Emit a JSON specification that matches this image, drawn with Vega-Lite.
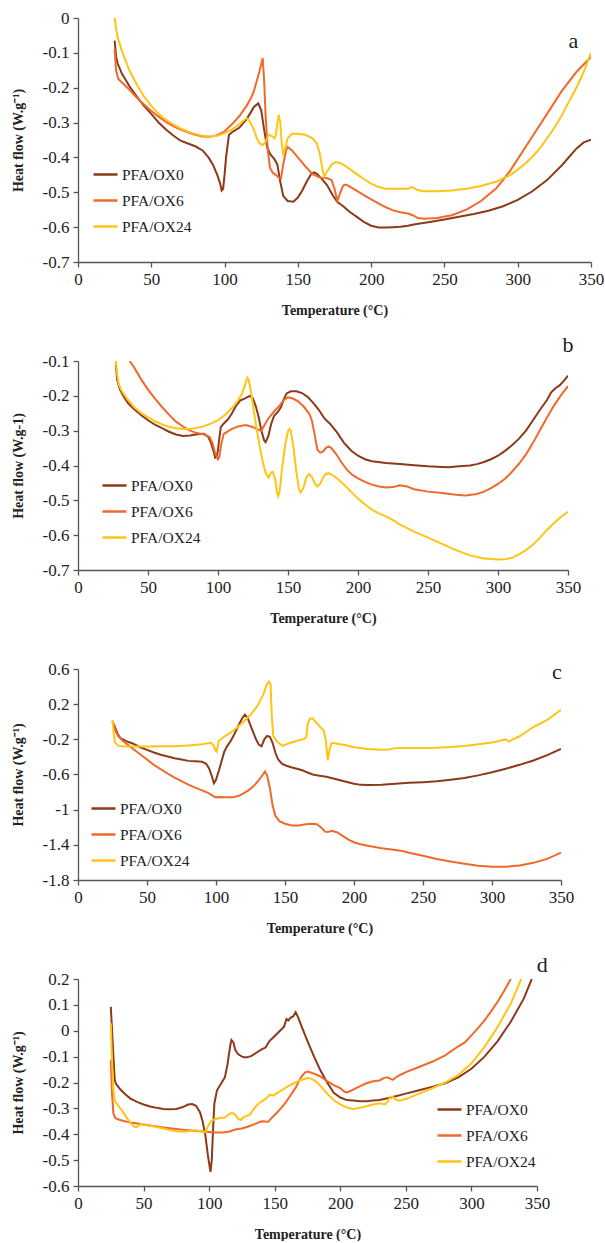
{
"$schema":"https://vega.github.io/schema/vega-lite/v6.json",
"padding":{"left":11,"top":9,"right":5,"bottom":0},
"bounds":"flush",
"spacing":99,
"resolve":{"scale":{"color":"independent"},"legend":{"color":"independent"}},
"config":{
 "locale":{"number":{"decimal":".","thousands":",","grouping":[3],"currency":["$",""],"minus":"-"}},
 "view":{"stroke":null},
 "axis":{"grid":false,"domainColor":"#555","tickColor":"#555","domainWidth":1.3,"tickWidth":1.3,"tickSize":5,"labelPadding":4,"labelFont":"Liberation Serif","labelFontSize":17,"labelColor":"#222","titleFont":"Liberation Serif","titleFontSize":14,"titleFontWeight":"bold","titleColor":"#222","labelFlush":false,"labelOverlap":false,"tickCount":20},
 "axisX":{"titlePadding":16},
 "axisY":{"titlePadding":17},
 "legend":{"orient":"none","title":null,"symbolType":"stroke","symbolSize":576,"symbolStrokeWidth":2.5,"labelFont":"Liberation Serif","labelFontSize":15.5,"labelColor":"#222","rowPadding":4,"labelOffset":3,"padding":0,"direction":"vertical"}
},
"datasets":{
"a":[
{"s":"PFA/OX0","T":25,"v":-0.065},{"s":"PFA/OX0","T":26,"v":-0.11},{"s":"PFA/OX0","T":27,"v":-0.13},{"s":"PFA/OX0","T":30,"v":-0.16},{"s":"PFA/OX0","T":35,"v":-0.195},{"s":"PFA/OX0","T":40,"v":-0.225},{"s":"PFA/OX0","T":45,"v":-0.252},{"s":"PFA/OX0","T":50,"v":-0.275},{"s":"PFA/OX0","T":55,"v":-0.3},{"s":"PFA/OX0","T":60,"v":-0.32},{"s":"PFA/OX0","T":65,"v":-0.337},{"s":"PFA/OX0","T":70,"v":-0.352},{"s":"PFA/OX0","T":75,"v":-0.36},{"s":"PFA/OX0","T":80,"v":-0.368},{"s":"PFA/OX0","T":85,"v":-0.38},{"s":"PFA/OX0","T":89,"v":-0.4},{"s":"PFA/OX0","T":92,"v":-0.42},{"s":"PFA/OX0","T":95,"v":-0.45},{"s":"PFA/OX0","T":97,"v":-0.475},{"s":"PFA/OX0","T":98,"v":-0.495},{"s":"PFA/OX0","T":99,"v":-0.49},{"s":"PFA/OX0","T":100,"v":-0.45},{"s":"PFA/OX0","T":101,"v":-0.4},{"s":"PFA/OX0","T":103,"v":-0.335},{"s":"PFA/OX0","T":106,"v":-0.325},{"s":"PFA/OX0","T":110,"v":-0.315},{"s":"PFA/OX0","T":115,"v":-0.29},{"s":"PFA/OX0","T":118,"v":-0.27},{"s":"PFA/OX0","T":120,"v":-0.255},{"s":"PFA/OX0","T":123,"v":-0.245},{"s":"PFA/OX0","T":125,"v":-0.265},{"s":"PFA/OX0","T":127,"v":-0.32},{"s":"PFA/OX0","T":129,"v":-0.37},{"s":"PFA/OX0","T":131,"v":-0.39},{"s":"PFA/OX0","T":134,"v":-0.405},{"s":"PFA/OX0","T":136,"v":-0.42},{"s":"PFA/OX0","T":138,"v":-0.47},{"s":"PFA/OX0","T":140,"v":-0.51},{"s":"PFA/OX0","T":143,"v":-0.525},{"s":"PFA/OX0","T":147,"v":-0.527},{"s":"PFA/OX0","T":150,"v":-0.515},{"s":"PFA/OX0","T":153,"v":-0.495},{"s":"PFA/OX0","T":156,"v":-0.47},{"s":"PFA/OX0","T":159,"v":-0.448},{"s":"PFA/OX0","T":161,"v":-0.443},{"s":"PFA/OX0","T":163,"v":-0.447},{"s":"PFA/OX0","T":166,"v":-0.46},{"s":"PFA/OX0","T":170,"v":-0.48},{"s":"PFA/OX0","T":174,"v":-0.51},{"s":"PFA/OX0","T":177,"v":-0.528},{"s":"PFA/OX0","T":181,"v":-0.54},{"s":"PFA/OX0","T":185,"v":-0.555},{"s":"PFA/OX0","T":190,"v":-0.57},{"s":"PFA/OX0","T":195,"v":-0.585},{"s":"PFA/OX0","T":200,"v":-0.596},{"s":"PFA/OX0","T":205,"v":-0.601},{"s":"PFA/OX0","T":210,"v":-0.601},{"s":"PFA/OX0","T":215,"v":-0.6},{"s":"PFA/OX0","T":220,"v":-0.599},{"s":"PFA/OX0","T":225,"v":-0.596},{"s":"PFA/OX0","T":230,"v":-0.592},{"s":"PFA/OX0","T":240,"v":-0.585},{"s":"PFA/OX0","T":250,"v":-0.578},{"s":"PFA/OX0","T":260,"v":-0.57},{"s":"PFA/OX0","T":270,"v":-0.562},{"s":"PFA/OX0","T":280,"v":-0.553},{"s":"PFA/OX0","T":290,"v":-0.54},{"s":"PFA/OX0","T":300,"v":-0.522},{"s":"PFA/OX0","T":310,"v":-0.497},{"s":"PFA/OX0","T":320,"v":-0.465},{"s":"PFA/OX0","T":330,"v":-0.423},{"s":"PFA/OX0","T":340,"v":-0.375},{"s":"PFA/OX0","T":345,"v":-0.357},{"s":"PFA/OX0","T":350,"v":-0.349},
{"s":"PFA/OX6","T":25,"v":-0.09},{"s":"PFA/OX6","T":26,"v":-0.15},{"s":"PFA/OX6","T":27.5,"v":-0.175},{"s":"PFA/OX6","T":30,"v":-0.185},{"s":"PFA/OX6","T":35,"v":-0.205},{"s":"PFA/OX6","T":40,"v":-0.228},{"s":"PFA/OX6","T":45,"v":-0.248},{"s":"PFA/OX6","T":50,"v":-0.267},{"s":"PFA/OX6","T":55,"v":-0.283},{"s":"PFA/OX6","T":60,"v":-0.298},{"s":"PFA/OX6","T":65,"v":-0.31},{"s":"PFA/OX6","T":70,"v":-0.32},{"s":"PFA/OX6","T":75,"v":-0.328},{"s":"PFA/OX6","T":80,"v":-0.335},{"s":"PFA/OX6","T":85,"v":-0.34},{"s":"PFA/OX6","T":90,"v":-0.341},{"s":"PFA/OX6","T":95,"v":-0.336},{"s":"PFA/OX6","T":100,"v":-0.325},{"s":"PFA/OX6","T":105,"v":-0.305},{"s":"PFA/OX6","T":110,"v":-0.282},{"s":"PFA/OX6","T":115,"v":-0.252},{"s":"PFA/OX6","T":118,"v":-0.23},{"s":"PFA/OX6","T":120,"v":-0.21},{"s":"PFA/OX6","T":122,"v":-0.18},{"s":"PFA/OX6","T":124,"v":-0.15},{"s":"PFA/OX6","T":126,"v":-0.115},{"s":"PFA/OX6","T":127,"v":-0.18},{"s":"PFA/OX6","T":128,"v":-0.28},{"s":"PFA/OX6","T":129.5,"v":-0.38},{"s":"PFA/OX6","T":131,"v":-0.43},{"s":"PFA/OX6","T":133,"v":-0.445},{"s":"PFA/OX6","T":135,"v":-0.45},{"s":"PFA/OX6","T":137,"v":-0.457},{"s":"PFA/OX6","T":138.5,"v":-0.46},{"s":"PFA/OX6","T":140,"v":-0.42},{"s":"PFA/OX6","T":142,"v":-0.38},{"s":"PFA/OX6","T":143,"v":-0.37},{"s":"PFA/OX6","T":146,"v":-0.38},{"s":"PFA/OX6","T":150,"v":-0.4},{"s":"PFA/OX6","T":155,"v":-0.425},{"s":"PFA/OX6","T":160,"v":-0.448},{"s":"PFA/OX6","T":165,"v":-0.458},{"s":"PFA/OX6","T":170,"v":-0.46},{"s":"PFA/OX6","T":173,"v":-0.465},{"s":"PFA/OX6","T":175,"v":-0.49},{"s":"PFA/OX6","T":177,"v":-0.525},{"s":"PFA/OX6","T":179,"v":-0.5},{"s":"PFA/OX6","T":181,"v":-0.48},{"s":"PFA/OX6","T":183,"v":-0.478},{"s":"PFA/OX6","T":186,"v":-0.485},{"s":"PFA/OX6","T":190,"v":-0.495},{"s":"PFA/OX6","T":195,"v":-0.508},{"s":"PFA/OX6","T":200,"v":-0.52},{"s":"PFA/OX6","T":205,"v":-0.532},{"s":"PFA/OX6","T":210,"v":-0.543},{"s":"PFA/OX6","T":215,"v":-0.552},{"s":"PFA/OX6","T":220,"v":-0.557},{"s":"PFA/OX6","T":225,"v":-0.561},{"s":"PFA/OX6","T":228,"v":-0.565},{"s":"PFA/OX6","T":232,"v":-0.574},{"s":"PFA/OX6","T":236,"v":-0.576},{"s":"PFA/OX6","T":245,"v":-0.574},{"s":"PFA/OX6","T":255,"v":-0.566},{"s":"PFA/OX6","T":265,"v":-0.55},{"s":"PFA/OX6","T":275,"v":-0.525},{"s":"PFA/OX6","T":285,"v":-0.49},{"s":"PFA/OX6","T":290,"v":-0.465},{"s":"PFA/OX6","T":295,"v":-0.437},{"s":"PFA/OX6","T":300,"v":-0.405},{"s":"PFA/OX6","T":310,"v":-0.34},{"s":"PFA/OX6","T":320,"v":-0.275},{"s":"PFA/OX6","T":330,"v":-0.21},{"s":"PFA/OX6","T":340,"v":-0.155},{"s":"PFA/OX6","T":350,"v":-0.112},
{"s":"PFA/OX24","T":25,"v":0},{"s":"PFA/OX24","T":26,"v":-0.03},{"s":"PFA/OX24","T":27,"v":-0.055},{"s":"PFA/OX24","T":30,"v":-0.095},{"s":"PFA/OX24","T":35,"v":-0.15},{"s":"PFA/OX24","T":40,"v":-0.19},{"s":"PFA/OX24","T":45,"v":-0.225},{"s":"PFA/OX24","T":50,"v":-0.252},{"s":"PFA/OX24","T":55,"v":-0.275},{"s":"PFA/OX24","T":60,"v":-0.292},{"s":"PFA/OX24","T":65,"v":-0.305},{"s":"PFA/OX24","T":70,"v":-0.317},{"s":"PFA/OX24","T":75,"v":-0.326},{"s":"PFA/OX24","T":80,"v":-0.333},{"s":"PFA/OX24","T":85,"v":-0.338},{"s":"PFA/OX24","T":90,"v":-0.34},{"s":"PFA/OX24","T":95,"v":-0.338},{"s":"PFA/OX24","T":100,"v":-0.33},{"s":"PFA/OX24","T":105,"v":-0.32},{"s":"PFA/OX24","T":110,"v":-0.305},{"s":"PFA/OX24","T":115,"v":-0.287},{"s":"PFA/OX24","T":117,"v":-0.295},{"s":"PFA/OX24","T":120,"v":-0.32},{"s":"PFA/OX24","T":122,"v":-0.345},{"s":"PFA/OX24","T":124,"v":-0.36},{"s":"PFA/OX24","T":126,"v":-0.365},{"s":"PFA/OX24","T":128,"v":-0.355},{"s":"PFA/OX24","T":130,"v":-0.335},{"s":"PFA/OX24","T":132,"v":-0.338},{"s":"PFA/OX24","T":134,"v":-0.345},{"s":"PFA/OX24","T":135,"v":-0.335},{"s":"PFA/OX24","T":136,"v":-0.3},{"s":"PFA/OX24","T":137,"v":-0.278},{"s":"PFA/OX24","T":138,"v":-0.3},{"s":"PFA/OX24","T":139,"v":-0.36},{"s":"PFA/OX24","T":140,"v":-0.39},{"s":"PFA/OX24","T":141,"v":-0.38},{"s":"PFA/OX24","T":143,"v":-0.345},{"s":"PFA/OX24","T":146,"v":-0.332},{"s":"PFA/OX24","T":150,"v":-0.332},{"s":"PFA/OX24","T":155,"v":-0.335},{"s":"PFA/OX24","T":160,"v":-0.345},{"s":"PFA/OX24","T":163,"v":-0.36},{"s":"PFA/OX24","T":165,"v":-0.39},{"s":"PFA/OX24","T":167,"v":-0.44},{"s":"PFA/OX24","T":168,"v":-0.455},{"s":"PFA/OX24","T":170,"v":-0.44},{"s":"PFA/OX24","T":173,"v":-0.42},{"s":"PFA/OX24","T":176,"v":-0.413},{"s":"PFA/OX24","T":180,"v":-0.418},{"s":"PFA/OX24","T":185,"v":-0.432},{"s":"PFA/OX24","T":190,"v":-0.447},{"s":"PFA/OX24","T":195,"v":-0.462},{"s":"PFA/OX24","T":200,"v":-0.475},{"s":"PFA/OX24","T":205,"v":-0.485},{"s":"PFA/OX24","T":210,"v":-0.49},{"s":"PFA/OX24","T":220,"v":-0.49},{"s":"PFA/OX24","T":225,"v":-0.49},{"s":"PFA/OX24","T":228,"v":-0.485},{"s":"PFA/OX24","T":231,"v":-0.492},{"s":"PFA/OX24","T":235,"v":-0.497},{"s":"PFA/OX24","T":245,"v":-0.497},{"s":"PFA/OX24","T":255,"v":-0.495},{"s":"PFA/OX24","T":265,"v":-0.49},{"s":"PFA/OX24","T":275,"v":-0.482},{"s":"PFA/OX24","T":285,"v":-0.47},{"s":"PFA/OX24","T":290,"v":-0.46},{"s":"PFA/OX24","T":295,"v":-0.45},{"s":"PFA/OX24","T":300,"v":-0.435},{"s":"PFA/OX24","T":305,"v":-0.418},{"s":"PFA/OX24","T":310,"v":-0.398},{"s":"PFA/OX24","T":315,"v":-0.375},{"s":"PFA/OX24","T":320,"v":-0.345},{"s":"PFA/OX24","T":325,"v":-0.315},{"s":"PFA/OX24","T":330,"v":-0.28},{"s":"PFA/OX24","T":335,"v":-0.24},{"s":"PFA/OX24","T":340,"v":-0.2},{"s":"PFA/OX24","T":345,"v":-0.155},{"s":"PFA/OX24","T":350,"v":-0.1}
],
"b":[
{"s":"PFA/OX0","T":27,"v":-0.11},{"s":"PFA/OX0","T":28,"v":-0.155},{"s":"PFA/OX0","T":30,"v":-0.182},{"s":"PFA/OX0","T":33,"v":-0.205},{"s":"PFA/OX0","T":36,"v":-0.222},{"s":"PFA/OX0","T":40,"v":-0.238},{"s":"PFA/OX0","T":45,"v":-0.255},{"s":"PFA/OX0","T":50,"v":-0.27},{"s":"PFA/OX0","T":55,"v":-0.283},{"s":"PFA/OX0","T":60,"v":-0.293},{"s":"PFA/OX0","T":65,"v":-0.303},{"s":"PFA/OX0","T":70,"v":-0.311},{"s":"PFA/OX0","T":75,"v":-0.315},{"s":"PFA/OX0","T":80,"v":-0.314},{"s":"PFA/OX0","T":85,"v":-0.31},{"s":"PFA/OX0","T":90,"v":-0.309},{"s":"PFA/OX0","T":93,"v":-0.318},{"s":"PFA/OX0","T":95,"v":-0.335},{"s":"PFA/OX0","T":97,"v":-0.362},{"s":"PFA/OX0","T":98,"v":-0.378},{"s":"PFA/OX0","T":99,"v":-0.376},{"s":"PFA/OX0","T":100,"v":-0.355},{"s":"PFA/OX0","T":101,"v":-0.32},{"s":"PFA/OX0","T":102,"v":-0.29},{"s":"PFA/OX0","T":104,"v":-0.28},{"s":"PFA/OX0","T":107,"v":-0.268},{"s":"PFA/OX0","T":110,"v":-0.25},{"s":"PFA/OX0","T":113,"v":-0.228},{"s":"PFA/OX0","T":116,"v":-0.213},{"s":"PFA/OX0","T":119,"v":-0.208},{"s":"PFA/OX0","T":121,"v":-0.204},{"s":"PFA/OX0","T":123,"v":-0.2},{"s":"PFA/OX0","T":125,"v":-0.208},{"s":"PFA/OX0","T":127,"v":-0.23},{"s":"PFA/OX0","T":129,"v":-0.26},{"s":"PFA/OX0","T":131,"v":-0.3},{"s":"PFA/OX0","T":133,"v":-0.328},{"s":"PFA/OX0","T":134,"v":-0.333},{"s":"PFA/OX0","T":136,"v":-0.315},{"s":"PFA/OX0","T":138,"v":-0.28},{"s":"PFA/OX0","T":140,"v":-0.258},{"s":"PFA/OX0","T":143,"v":-0.245},{"s":"PFA/OX0","T":145,"v":-0.232},{"s":"PFA/OX0","T":147,"v":-0.21},{"s":"PFA/OX0","T":149,"v":-0.193},{"s":"PFA/OX0","T":152,"v":-0.187},{"s":"PFA/OX0","T":156,"v":-0.187},{"s":"PFA/OX0","T":160,"v":-0.192},{"s":"PFA/OX0","T":164,"v":-0.203},{"s":"PFA/OX0","T":168,"v":-0.22},{"s":"PFA/OX0","T":172,"v":-0.24},{"s":"PFA/OX0","T":176,"v":-0.265},{"s":"PFA/OX0","T":180,"v":-0.28},{"s":"PFA/OX0","T":185,"v":-0.305},{"s":"PFA/OX0","T":190,"v":-0.335},{"s":"PFA/OX0","T":195,"v":-0.357},{"s":"PFA/OX0","T":200,"v":-0.372},{"s":"PFA/OX0","T":205,"v":-0.382},{"s":"PFA/OX0","T":210,"v":-0.388},{"s":"PFA/OX0","T":220,"v":-0.393},{"s":"PFA/OX0","T":230,"v":-0.396},{"s":"PFA/OX0","T":240,"v":-0.399},{"s":"PFA/OX0","T":250,"v":-0.402},{"s":"PFA/OX0","T":260,"v":-0.404},{"s":"PFA/OX0","T":265,"v":-0.405},{"s":"PFA/OX0","T":270,"v":-0.403},{"s":"PFA/OX0","T":280,"v":-0.4},{"s":"PFA/OX0","T":285,"v":-0.396},{"s":"PFA/OX0","T":290,"v":-0.39},{"s":"PFA/OX0","T":295,"v":-0.382},{"s":"PFA/OX0","T":300,"v":-0.372},{"s":"PFA/OX0","T":305,"v":-0.358},{"s":"PFA/OX0","T":310,"v":-0.342},{"s":"PFA/OX0","T":315,"v":-0.323},{"s":"PFA/OX0","T":320,"v":-0.3},{"s":"PFA/OX0","T":325,"v":-0.27},{"s":"PFA/OX0","T":330,"v":-0.24},{"s":"PFA/OX0","T":335,"v":-0.212},{"s":"PFA/OX0","T":338,"v":-0.19},{"s":"PFA/OX0","T":341,"v":-0.178},{"s":"PFA/OX0","T":344,"v":-0.17},{"s":"PFA/OX0","T":347,"v":-0.157},{"s":"PFA/OX0","T":350,"v":-0.142},
{"s":"PFA/OX6","T":37,"v":-0.1},{"s":"PFA/OX6","T":40,"v":-0.118},{"s":"PFA/OX6","T":45,"v":-0.152},{"s":"PFA/OX6","T":50,"v":-0.182},{"s":"PFA/OX6","T":55,"v":-0.208},{"s":"PFA/OX6","T":60,"v":-0.232},{"s":"PFA/OX6","T":65,"v":-0.254},{"s":"PFA/OX6","T":70,"v":-0.274},{"s":"PFA/OX6","T":75,"v":-0.288},{"s":"PFA/OX6","T":80,"v":-0.3},{"s":"PFA/OX6","T":85,"v":-0.307},{"s":"PFA/OX6","T":90,"v":-0.311},{"s":"PFA/OX6","T":94,"v":-0.318},{"s":"PFA/OX6","T":96,"v":-0.335},{"s":"PFA/OX6","T":98,"v":-0.365},{"s":"PFA/OX6","T":100,"v":-0.382},{"s":"PFA/OX6","T":101,"v":-0.375},{"s":"PFA/OX6","T":102,"v":-0.345},{"s":"PFA/OX6","T":104,"v":-0.31},{"s":"PFA/OX6","T":107,"v":-0.302},{"s":"PFA/OX6","T":110,"v":-0.295},{"s":"PFA/OX6","T":115,"v":-0.287},{"s":"PFA/OX6","T":120,"v":-0.284},{"s":"PFA/OX6","T":125,"v":-0.29},{"s":"PFA/OX6","T":128,"v":-0.296},{"s":"PFA/OX6","T":131,"v":-0.3},{"s":"PFA/OX6","T":133,"v":-0.285},{"s":"PFA/OX6","T":136,"v":-0.265},{"s":"PFA/OX6","T":140,"v":-0.245},{"s":"PFA/OX6","T":144,"v":-0.228},{"s":"PFA/OX6","T":147,"v":-0.212},{"s":"PFA/OX6","T":150,"v":-0.204},{"s":"PFA/OX6","T":153,"v":-0.207},{"s":"PFA/OX6","T":157,"v":-0.215},{"s":"PFA/OX6","T":161,"v":-0.23},{"s":"PFA/OX6","T":165,"v":-0.25},{"s":"PFA/OX6","T":167,"v":-0.27},{"s":"PFA/OX6","T":169,"v":-0.31},{"s":"PFA/OX6","T":171,"v":-0.355},{"s":"PFA/OX6","T":173,"v":-0.363},{"s":"PFA/OX6","T":175,"v":-0.36},{"s":"PFA/OX6","T":177,"v":-0.35},{"s":"PFA/OX6","T":179,"v":-0.345},{"s":"PFA/OX6","T":181,"v":-0.35},{"s":"PFA/OX6","T":184,"v":-0.365},{"s":"PFA/OX6","T":188,"v":-0.39},{"s":"PFA/OX6","T":192,"v":-0.412},{"s":"PFA/OX6","T":196,"v":-0.427},{"s":"PFA/OX6","T":200,"v":-0.437},{"s":"PFA/OX6","T":205,"v":-0.447},{"s":"PFA/OX6","T":210,"v":-0.455},{"s":"PFA/OX6","T":215,"v":-0.46},{"s":"PFA/OX6","T":220,"v":-0.463},{"s":"PFA/OX6","T":225,"v":-0.462},{"s":"PFA/OX6","T":230,"v":-0.457},{"s":"PFA/OX6","T":235,"v":-0.46},{"s":"PFA/OX6","T":240,"v":-0.468},{"s":"PFA/OX6","T":250,"v":-0.475},{"s":"PFA/OX6","T":260,"v":-0.479},{"s":"PFA/OX6","T":270,"v":-0.484},{"s":"PFA/OX6","T":277,"v":-0.486},{"s":"PFA/OX6","T":285,"v":-0.482},{"s":"PFA/OX6","T":290,"v":-0.475},{"s":"PFA/OX6","T":295,"v":-0.465},{"s":"PFA/OX6","T":300,"v":-0.453},{"s":"PFA/OX6","T":305,"v":-0.438},{"s":"PFA/OX6","T":310,"v":-0.418},{"s":"PFA/OX6","T":315,"v":-0.395},{"s":"PFA/OX6","T":320,"v":-0.368},{"s":"PFA/OX6","T":325,"v":-0.335},{"s":"PFA/OX6","T":330,"v":-0.298},{"s":"PFA/OX6","T":335,"v":-0.262},{"s":"PFA/OX6","T":340,"v":-0.228},{"s":"PFA/OX6","T":345,"v":-0.198},{"s":"PFA/OX6","T":350,"v":-0.172},
{"s":"PFA/OX24","T":27,"v":-0.1},{"s":"PFA/OX24","T":28,"v":-0.14},{"s":"PFA/OX24","T":29,"v":-0.165},{"s":"PFA/OX24","T":31,"v":-0.185},{"s":"PFA/OX24","T":35,"v":-0.208},{"s":"PFA/OX24","T":40,"v":-0.232},{"s":"PFA/OX24","T":45,"v":-0.249},{"s":"PFA/OX24","T":50,"v":-0.262},{"s":"PFA/OX24","T":55,"v":-0.273},{"s":"PFA/OX24","T":60,"v":-0.282},{"s":"PFA/OX24","T":65,"v":-0.289},{"s":"PFA/OX24","T":70,"v":-0.293},{"s":"PFA/OX24","T":75,"v":-0.295},{"s":"PFA/OX24","T":80,"v":-0.295},{"s":"PFA/OX24","T":85,"v":-0.292},{"s":"PFA/OX24","T":90,"v":-0.287},{"s":"PFA/OX24","T":95,"v":-0.28},{"s":"PFA/OX24","T":100,"v":-0.27},{"s":"PFA/OX24","T":105,"v":-0.255},{"s":"PFA/OX24","T":110,"v":-0.235},{"s":"PFA/OX24","T":114,"v":-0.215},{"s":"PFA/OX24","T":117,"v":-0.195},{"s":"PFA/OX24","T":119,"v":-0.172},{"s":"PFA/OX24","T":121,"v":-0.148},{"s":"PFA/OX24","T":122,"v":-0.155},{"s":"PFA/OX24","T":124,"v":-0.2},{"s":"PFA/OX24","T":126,"v":-0.255},{"s":"PFA/OX24","T":128,"v":-0.305},{"s":"PFA/OX24","T":130,"v":-0.35},{"s":"PFA/OX24","T":132,"v":-0.39},{"s":"PFA/OX24","T":134,"v":-0.42},{"s":"PFA/OX24","T":136,"v":-0.435},{"s":"PFA/OX24","T":138,"v":-0.42},{"s":"PFA/OX24","T":139,"v":-0.418},{"s":"PFA/OX24","T":141,"v":-0.44},{"s":"PFA/OX24","T":142,"v":-0.475},{"s":"PFA/OX24","T":143,"v":-0.488},{"s":"PFA/OX24","T":144,"v":-0.475},{"s":"PFA/OX24","T":146,"v":-0.4},{"s":"PFA/OX24","T":148,"v":-0.34},{"s":"PFA/OX24","T":150,"v":-0.302},{"s":"PFA/OX24","T":151,"v":-0.295},{"s":"PFA/OX24","T":152,"v":-0.3},{"s":"PFA/OX24","T":154,"v":-0.35},{"s":"PFA/OX24","T":156,"v":-0.42},{"s":"PFA/OX24","T":158,"v":-0.47},{"s":"PFA/OX24","T":159,"v":-0.477},{"s":"PFA/OX24","T":161,"v":-0.465},{"s":"PFA/OX24","T":163,"v":-0.435},{"s":"PFA/OX24","T":165,"v":-0.425},{"s":"PFA/OX24","T":167,"v":-0.432},{"s":"PFA/OX24","T":169,"v":-0.45},{"s":"PFA/OX24","T":171,"v":-0.46},{"s":"PFA/OX24","T":173,"v":-0.452},{"s":"PFA/OX24","T":175,"v":-0.435},{"s":"PFA/OX24","T":177,"v":-0.424},{"s":"PFA/OX24","T":179,"v":-0.422},{"s":"PFA/OX24","T":182,"v":-0.428},{"s":"PFA/OX24","T":186,"v":-0.44},{"s":"PFA/OX24","T":190,"v":-0.455},{"s":"PFA/OX24","T":195,"v":-0.475},{"s":"PFA/OX24","T":200,"v":-0.495},{"s":"PFA/OX24","T":205,"v":-0.512},{"s":"PFA/OX24","T":210,"v":-0.527},{"s":"PFA/OX24","T":215,"v":-0.538},{"s":"PFA/OX24","T":220,"v":-0.546},{"s":"PFA/OX24","T":225,"v":-0.557},{"s":"PFA/OX24","T":230,"v":-0.57},{"s":"PFA/OX24","T":240,"v":-0.59},{"s":"PFA/OX24","T":250,"v":-0.607},{"s":"PFA/OX24","T":260,"v":-0.625},{"s":"PFA/OX24","T":270,"v":-0.643},{"s":"PFA/OX24","T":280,"v":-0.658},{"s":"PFA/OX24","T":290,"v":-0.667},{"s":"PFA/OX24","T":300,"v":-0.67},{"s":"PFA/OX24","T":305,"v":-0.669},{"s":"PFA/OX24","T":310,"v":-0.665},{"s":"PFA/OX24","T":315,"v":-0.655},{"s":"PFA/OX24","T":320,"v":-0.643},{"s":"PFA/OX24","T":325,"v":-0.627},{"s":"PFA/OX24","T":330,"v":-0.607},{"s":"PFA/OX24","T":335,"v":-0.585},{"s":"PFA/OX24","T":340,"v":-0.565},{"s":"PFA/OX24","T":345,"v":-0.548},{"s":"PFA/OX24","T":350,"v":-0.533}
],
"c":[
{"s":"PFA/OX0","T":25,"v":0},{"s":"PFA/OX0","T":27,"v":-0.07},{"s":"PFA/OX0","T":29,"v":-0.15},{"s":"PFA/OX0","T":31,"v":-0.19},{"s":"PFA/OX0","T":35,"v":-0.22},{"s":"PFA/OX0","T":40,"v":-0.25},{"s":"PFA/OX0","T":45,"v":-0.29},{"s":"PFA/OX0","T":50,"v":-0.32},{"s":"PFA/OX0","T":55,"v":-0.35},{"s":"PFA/OX0","T":60,"v":-0.375},{"s":"PFA/OX0","T":65,"v":-0.395},{"s":"PFA/OX0","T":70,"v":-0.415},{"s":"PFA/OX0","T":75,"v":-0.43},{"s":"PFA/OX0","T":80,"v":-0.445},{"s":"PFA/OX0","T":85,"v":-0.45},{"s":"PFA/OX0","T":90,"v":-0.455},{"s":"PFA/OX0","T":93,"v":-0.48},{"s":"PFA/OX0","T":95,"v":-0.53},{"s":"PFA/OX0","T":97,"v":-0.62},{"s":"PFA/OX0","T":98.5,"v":-0.7},{"s":"PFA/OX0","T":100,"v":-0.66},{"s":"PFA/OX0","T":102,"v":-0.56},{"s":"PFA/OX0","T":104,"v":-0.45},{"s":"PFA/OX0","T":106,"v":-0.34},{"s":"PFA/OX0","T":108,"v":-0.28},{"s":"PFA/OX0","T":111,"v":-0.21},{"s":"PFA/OX0","T":114,"v":-0.12},{"s":"PFA/OX0","T":117,"v":-0.02},{"s":"PFA/OX0","T":119,"v":0.04},{"s":"PFA/OX0","T":121,"v":0.08},{"s":"PFA/OX0","T":123,"v":0.04},{"s":"PFA/OX0","T":125,"v":-0.04},{"s":"PFA/OX0","T":127,"v":-0.12},{"s":"PFA/OX0","T":129,"v":-0.2},{"s":"PFA/OX0","T":131,"v":-0.26},{"s":"PFA/OX0","T":133,"v":-0.28},{"s":"PFA/OX0","T":135,"v":-0.2},{"s":"PFA/OX0","T":137,"v":-0.16},{"s":"PFA/OX0","T":139,"v":-0.17},{"s":"PFA/OX0","T":141,"v":-0.24},{"s":"PFA/OX0","T":143,"v":-0.35},{"s":"PFA/OX0","T":145,"v":-0.43},{"s":"PFA/OX0","T":148,"v":-0.48},{"s":"PFA/OX0","T":151,"v":-0.5},{"s":"PFA/OX0","T":155,"v":-0.52},{"s":"PFA/OX0","T":160,"v":-0.54},{"s":"PFA/OX0","T":163,"v":-0.555},{"s":"PFA/OX0","T":166,"v":-0.575},{"s":"PFA/OX0","T":170,"v":-0.6},{"s":"PFA/OX0","T":175,"v":-0.615},{"s":"PFA/OX0","T":180,"v":-0.625},{"s":"PFA/OX0","T":185,"v":-0.645},{"s":"PFA/OX0","T":190,"v":-0.665},{"s":"PFA/OX0","T":195,"v":-0.685},{"s":"PFA/OX0","T":200,"v":-0.705},{"s":"PFA/OX0","T":205,"v":-0.718},{"s":"PFA/OX0","T":210,"v":-0.72},{"s":"PFA/OX0","T":220,"v":-0.717},{"s":"PFA/OX0","T":230,"v":-0.705},{"s":"PFA/OX0","T":240,"v":-0.695},{"s":"PFA/OX0","T":250,"v":-0.688},{"s":"PFA/OX0","T":260,"v":-0.678},{"s":"PFA/OX0","T":270,"v":-0.66},{"s":"PFA/OX0","T":280,"v":-0.64},{"s":"PFA/OX0","T":290,"v":-0.61},{"s":"PFA/OX0","T":300,"v":-0.575},{"s":"PFA/OX0","T":310,"v":-0.535},{"s":"PFA/OX0","T":320,"v":-0.49},{"s":"PFA/OX0","T":330,"v":-0.44},{"s":"PFA/OX0","T":340,"v":-0.38},{"s":"PFA/OX0","T":350,"v":-0.31},
{"s":"PFA/OX6","T":25,"v":0},{"s":"PFA/OX6","T":27,"v":-0.1},{"s":"PFA/OX6","T":29,"v":-0.16},{"s":"PFA/OX6","T":32,"v":-0.21},{"s":"PFA/OX6","T":36,"v":-0.26},{"s":"PFA/OX6","T":40,"v":-0.31},{"s":"PFA/OX6","T":45,"v":-0.37},{"s":"PFA/OX6","T":50,"v":-0.43},{"s":"PFA/OX6","T":55,"v":-0.49},{"s":"PFA/OX6","T":60,"v":-0.54},{"s":"PFA/OX6","T":65,"v":-0.59},{"s":"PFA/OX6","T":70,"v":-0.635},{"s":"PFA/OX6","T":75,"v":-0.675},{"s":"PFA/OX6","T":80,"v":-0.715},{"s":"PFA/OX6","T":85,"v":-0.75},{"s":"PFA/OX6","T":90,"v":-0.78},{"s":"PFA/OX6","T":95,"v":-0.815},{"s":"PFA/OX6","T":98,"v":-0.845},{"s":"PFA/OX6","T":100,"v":-0.86},{"s":"PFA/OX6","T":103,"v":-0.855},{"s":"PFA/OX6","T":107,"v":-0.86},{"s":"PFA/OX6","T":112,"v":-0.86},{"s":"PFA/OX6","T":116,"v":-0.845},{"s":"PFA/OX6","T":120,"v":-0.815},{"s":"PFA/OX6","T":124,"v":-0.775},{"s":"PFA/OX6","T":128,"v":-0.72},{"s":"PFA/OX6","T":131,"v":-0.665},{"s":"PFA/OX6","T":134,"v":-0.6},{"s":"PFA/OX6","T":135.5,"v":-0.565},{"s":"PFA/OX6","T":137,"v":-0.61},{"s":"PFA/OX6","T":139,"v":-0.75},{"s":"PFA/OX6","T":141,"v":-0.95},{"s":"PFA/OX6","T":143,"v":-1.07},{"s":"PFA/OX6","T":146,"v":-1.13},{"s":"PFA/OX6","T":150,"v":-1.16},{"s":"PFA/OX6","T":155,"v":-1.18},{"s":"PFA/OX6","T":160,"v":-1.18},{"s":"PFA/OX6","T":165,"v":-1.165},{"s":"PFA/OX6","T":170,"v":-1.16},{"s":"PFA/OX6","T":173,"v":-1.165},{"s":"PFA/OX6","T":176,"v":-1.2},{"s":"PFA/OX6","T":179,"v":-1.25},{"s":"PFA/OX6","T":181,"v":-1.255},{"s":"PFA/OX6","T":184,"v":-1.24},{"s":"PFA/OX6","T":188,"v":-1.26},{"s":"PFA/OX6","T":192,"v":-1.3},{"s":"PFA/OX6","T":196,"v":-1.34},{"s":"PFA/OX6","T":200,"v":-1.37},{"s":"PFA/OX6","T":204,"v":-1.39},{"s":"PFA/OX6","T":210,"v":-1.41},{"s":"PFA/OX6","T":220,"v":-1.44},{"s":"PFA/OX6","T":230,"v":-1.46},{"s":"PFA/OX6","T":235,"v":-1.47},{"s":"PFA/OX6","T":240,"v":-1.49},{"s":"PFA/OX6","T":250,"v":-1.525},{"s":"PFA/OX6","T":260,"v":-1.56},{"s":"PFA/OX6","T":270,"v":-1.59},{"s":"PFA/OX6","T":280,"v":-1.615},{"s":"PFA/OX6","T":290,"v":-1.638},{"s":"PFA/OX6","T":300,"v":-1.65},{"s":"PFA/OX6","T":310,"v":-1.65},{"s":"PFA/OX6","T":320,"v":-1.635},{"s":"PFA/OX6","T":330,"v":-1.605},{"s":"PFA/OX6","T":340,"v":-1.56},{"s":"PFA/OX6","T":350,"v":-1.49},
{"s":"PFA/OX24","T":25,"v":0.02},{"s":"PFA/OX24","T":26,"v":-0.15},{"s":"PFA/OX24","T":27,"v":-0.24},{"s":"PFA/OX24","T":29,"v":-0.27},{"s":"PFA/OX24","T":33,"v":-0.28},{"s":"PFA/OX24","T":40,"v":-0.282},{"s":"PFA/OX24","T":50,"v":-0.282},{"s":"PFA/OX24","T":60,"v":-0.28},{"s":"PFA/OX24","T":70,"v":-0.278},{"s":"PFA/OX24","T":80,"v":-0.27},{"s":"PFA/OX24","T":90,"v":-0.255},{"s":"PFA/OX24","T":96,"v":-0.24},{"s":"PFA/OX24","T":98,"v":-0.26},{"s":"PFA/OX24","T":99.5,"v":-0.32},{"s":"PFA/OX24","T":100.5,"v":-0.34},{"s":"PFA/OX24","T":102,"v":-0.22},{"s":"PFA/OX24","T":105,"v":-0.18},{"s":"PFA/OX24","T":110,"v":-0.13},{"s":"PFA/OX24","T":115,"v":-0.07},{"s":"PFA/OX24","T":120,"v":0},{"s":"PFA/OX24","T":125,"v":0.08},{"s":"PFA/OX24","T":130,"v":0.18},{"s":"PFA/OX24","T":134,"v":0.3},{"s":"PFA/OX24","T":137,"v":0.43},{"s":"PFA/OX24","T":138.5,"v":0.455},{"s":"PFA/OX24","T":139.5,"v":0.43},{"s":"PFA/OX24","T":140.5,"v":0.05},{"s":"PFA/OX24","T":141.5,"v":-0.16},{"s":"PFA/OX24","T":144,"v":-0.22},{"s":"PFA/OX24","T":148,"v":-0.275},{"s":"PFA/OX24","T":152,"v":-0.25},{"s":"PFA/OX24","T":156,"v":-0.23},{"s":"PFA/OX24","T":160,"v":-0.21},{"s":"PFA/OX24","T":164,"v":-0.195},{"s":"PFA/OX24","T":165.5,"v":-0.17},{"s":"PFA/OX24","T":166.5,"v":-0.02},{"s":"PFA/OX24","T":168,"v":0.035},{"s":"PFA/OX24","T":170,"v":0.04},{"s":"PFA/OX24","T":172,"v":0},{"s":"PFA/OX24","T":175,"v":-0.05},{"s":"PFA/OX24","T":178,"v":-0.1},{"s":"PFA/OX24","T":179.5,"v":-0.2},{"s":"PFA/OX24","T":181,"v":-0.44},{"s":"PFA/OX24","T":182.5,"v":-0.3},{"s":"PFA/OX24","T":184,"v":-0.24},{"s":"PFA/OX24","T":188,"v":-0.25},{"s":"PFA/OX24","T":195,"v":-0.27},{"s":"PFA/OX24","T":200,"v":-0.29},{"s":"PFA/OX24","T":210,"v":-0.31},{"s":"PFA/OX24","T":220,"v":-0.318},{"s":"PFA/OX24","T":225,"v":-0.315},{"s":"PFA/OX24","T":230,"v":-0.3},{"s":"PFA/OX24","T":240,"v":-0.298},{"s":"PFA/OX24","T":250,"v":-0.298},{"s":"PFA/OX24","T":260,"v":-0.295},{"s":"PFA/OX24","T":270,"v":-0.287},{"s":"PFA/OX24","T":280,"v":-0.275},{"s":"PFA/OX24","T":290,"v":-0.255},{"s":"PFA/OX24","T":300,"v":-0.235},{"s":"PFA/OX24","T":305,"v":-0.22},{"s":"PFA/OX24","T":310,"v":-0.2},{"s":"PFA/OX24","T":312,"v":-0.225},{"s":"PFA/OX24","T":315,"v":-0.2},{"s":"PFA/OX24","T":320,"v":-0.165},{"s":"PFA/OX24","T":330,"v":-0.06},{"s":"PFA/OX24","T":340,"v":0.02},{"s":"PFA/OX24","T":350,"v":0.135}
],
"d":[
{"s":"PFA/OX0","T":25,"v":0.093},{"s":"PFA/OX0","T":26,"v":0},{"s":"PFA/OX0","T":27,"v":-0.1},{"s":"PFA/OX0","T":28,"v":-0.19},{"s":"PFA/OX0","T":29,"v":-0.205},{"s":"PFA/OX0","T":32,"v":-0.225},{"s":"PFA/OX0","T":36,"v":-0.245},{"s":"PFA/OX0","T":40,"v":-0.262},{"s":"PFA/OX0","T":45,"v":-0.275},{"s":"PFA/OX0","T":50,"v":-0.285},{"s":"PFA/OX0","T":55,"v":-0.293},{"s":"PFA/OX0","T":60,"v":-0.298},{"s":"PFA/OX0","T":65,"v":-0.302},{"s":"PFA/OX0","T":70,"v":-0.303},{"s":"PFA/OX0","T":75,"v":-0.302},{"s":"PFA/OX0","T":80,"v":-0.295},{"s":"PFA/OX0","T":84,"v":-0.285},{"s":"PFA/OX0","T":87,"v":-0.283},{"s":"PFA/OX0","T":90,"v":-0.29},{"s":"PFA/OX0","T":93,"v":-0.315},{"s":"PFA/OX0","T":95,"v":-0.35},{"s":"PFA/OX0","T":97,"v":-0.4},{"s":"PFA/OX0","T":99,"v":-0.48},{"s":"PFA/OX0","T":101,"v":-0.545},{"s":"PFA/OX0","T":102,"v":-0.5},{"s":"PFA/OX0","T":103,"v":-0.38},{"s":"PFA/OX0","T":104,"v":-0.28},{"s":"PFA/OX0","T":106,"v":-0.23},{"s":"PFA/OX0","T":109,"v":-0.205},{"s":"PFA/OX0","T":112,"v":-0.18},{"s":"PFA/OX0","T":114,"v":-0.13},{"s":"PFA/OX0","T":116,"v":-0.06},{"s":"PFA/OX0","T":117,"v":-0.036},{"s":"PFA/OX0","T":118.5,"v":-0.045},{"s":"PFA/OX0","T":120,"v":-0.075},{"s":"PFA/OX0","T":122,"v":-0.09},{"s":"PFA/OX0","T":125,"v":-0.1},{"s":"PFA/OX0","T":128,"v":-0.103},{"s":"PFA/OX0","T":132,"v":-0.098},{"s":"PFA/OX0","T":136,"v":-0.085},{"s":"PFA/OX0","T":140,"v":-0.072},{"s":"PFA/OX0","T":143,"v":-0.065},{"s":"PFA/OX0","T":146,"v":-0.04},{"s":"PFA/OX0","T":150,"v":-0.02},{"s":"PFA/OX0","T":154,"v":0},{"s":"PFA/OX0","T":157,"v":0.015},{"s":"PFA/OX0","T":159,"v":0.045},{"s":"PFA/OX0","T":160.5,"v":0.04},{"s":"PFA/OX0","T":162,"v":0.05},{"s":"PFA/OX0","T":164,"v":0.055},{"s":"PFA/OX0","T":166,"v":0.072},{"s":"PFA/OX0","T":168,"v":0.05},{"s":"PFA/OX0","T":171,"v":0.01},{"s":"PFA/OX0","T":175,"v":-0.04},{"s":"PFA/OX0","T":180,"v":-0.1},{"s":"PFA/OX0","T":185,"v":-0.155},{"s":"PFA/OX0","T":190,"v":-0.2},{"s":"PFA/OX0","T":195,"v":-0.24},{"s":"PFA/OX0","T":200,"v":-0.258},{"s":"PFA/OX0","T":205,"v":-0.268},{"s":"PFA/OX0","T":210,"v":-0.27},{"s":"PFA/OX0","T":215,"v":-0.272},{"s":"PFA/OX0","T":220,"v":-0.272},{"s":"PFA/OX0","T":225,"v":-0.27},{"s":"PFA/OX0","T":230,"v":-0.268},{"s":"PFA/OX0","T":240,"v":-0.256},{"s":"PFA/OX0","T":250,"v":-0.243},{"s":"PFA/OX0","T":260,"v":-0.23},{"s":"PFA/OX0","T":270,"v":-0.217},{"s":"PFA/OX0","T":280,"v":-0.203},{"s":"PFA/OX0","T":290,"v":-0.18},{"s":"PFA/OX0","T":300,"v":-0.147},{"s":"PFA/OX0","T":310,"v":-0.1},{"s":"PFA/OX0","T":320,"v":-0.04},{"s":"PFA/OX0","T":330,"v":0.035},{"s":"PFA/OX0","T":340,"v":0.125},{"s":"PFA/OX0","T":346,"v":0.2},
{"s":"PFA/OX6","T":25,"v":-0.113},{"s":"PFA/OX6","T":26,"v":-0.25},{"s":"PFA/OX6","T":27,"v":-0.32},{"s":"PFA/OX6","T":28.5,"v":-0.338},{"s":"PFA/OX6","T":32,"v":-0.345},{"s":"PFA/OX6","T":40,"v":-0.355},{"s":"PFA/OX6","T":50,"v":-0.362},{"s":"PFA/OX6","T":60,"v":-0.37},{"s":"PFA/OX6","T":70,"v":-0.377},{"s":"PFA/OX6","T":80,"v":-0.383},{"s":"PFA/OX6","T":90,"v":-0.387},{"s":"PFA/OX6","T":100,"v":-0.391},{"s":"PFA/OX6","T":105,"v":-0.393},{"s":"PFA/OX6","T":110,"v":-0.393},{"s":"PFA/OX6","T":115,"v":-0.39},{"s":"PFA/OX6","T":120,"v":-0.382},{"s":"PFA/OX6","T":125,"v":-0.378},{"s":"PFA/OX6","T":130,"v":-0.37},{"s":"PFA/OX6","T":135,"v":-0.36},{"s":"PFA/OX6","T":140,"v":-0.35},{"s":"PFA/OX6","T":145,"v":-0.352},{"s":"PFA/OX6","T":148,"v":-0.335},{"s":"PFA/OX6","T":152,"v":-0.315},{"s":"PFA/OX6","T":155,"v":-0.298},{"s":"PFA/OX6","T":158,"v":-0.28},{"s":"PFA/OX6","T":162,"v":-0.25},{"s":"PFA/OX6","T":166,"v":-0.22},{"s":"PFA/OX6","T":170,"v":-0.18},{"s":"PFA/OX6","T":173,"v":-0.162},{"s":"PFA/OX6","T":175,"v":-0.158},{"s":"PFA/OX6","T":178,"v":-0.162},{"s":"PFA/OX6","T":182,"v":-0.17},{"s":"PFA/OX6","T":186,"v":-0.18},{"s":"PFA/OX6","T":190,"v":-0.195},{"s":"PFA/OX6","T":195,"v":-0.21},{"s":"PFA/OX6","T":200,"v":-0.222},{"s":"PFA/OX6","T":203,"v":-0.235},{"s":"PFA/OX6","T":205,"v":-0.238},{"s":"PFA/OX6","T":208,"v":-0.232},{"s":"PFA/OX6","T":212,"v":-0.222},{"s":"PFA/OX6","T":216,"v":-0.212},{"s":"PFA/OX6","T":220,"v":-0.203},{"s":"PFA/OX6","T":225,"v":-0.195},{"s":"PFA/OX6","T":230,"v":-0.192},{"s":"PFA/OX6","T":233,"v":-0.183},{"s":"PFA/OX6","T":236,"v":-0.18},{"s":"PFA/OX6","T":238,"v":-0.185},{"s":"PFA/OX6","T":240,"v":-0.19},{"s":"PFA/OX6","T":243,"v":-0.178},{"s":"PFA/OX6","T":246,"v":-0.17},{"s":"PFA/OX6","T":250,"v":-0.16},{"s":"PFA/OX6","T":260,"v":-0.14},{"s":"PFA/OX6","T":270,"v":-0.12},{"s":"PFA/OX6","T":280,"v":-0.095},{"s":"PFA/OX6","T":290,"v":-0.06},{"s":"PFA/OX6","T":295,"v":-0.045},{"s":"PFA/OX6","T":300,"v":-0.018},{"s":"PFA/OX6","T":305,"v":0.01},{"s":"PFA/OX6","T":310,"v":0.04},{"s":"PFA/OX6","T":315,"v":0.075},{"s":"PFA/OX6","T":320,"v":0.112},{"s":"PFA/OX6","T":325,"v":0.155},{"s":"PFA/OX6","T":330,"v":0.2},
{"s":"PFA/OX24","T":25,"v":0.029},{"s":"PFA/OX24","T":26,"v":-0.12},{"s":"PFA/OX24","T":27,"v":-0.23},{"s":"PFA/OX24","T":28,"v":-0.27},{"s":"PFA/OX24","T":30,"v":-0.285},{"s":"PFA/OX24","T":33,"v":-0.305},{"s":"PFA/OX24","T":37,"v":-0.335},{"s":"PFA/OX24","T":40,"v":-0.355},{"s":"PFA/OX24","T":43,"v":-0.372},{"s":"PFA/OX24","T":45,"v":-0.373},{"s":"PFA/OX24","T":48,"v":-0.36},{"s":"PFA/OX24","T":52,"v":-0.365},{"s":"PFA/OX24","T":58,"v":-0.37},{"s":"PFA/OX24","T":65,"v":-0.378},{"s":"PFA/OX24","T":72,"v":-0.386},{"s":"PFA/OX24","T":78,"v":-0.39},{"s":"PFA/OX24","T":84,"v":-0.388},{"s":"PFA/OX24","T":90,"v":-0.385},{"s":"PFA/OX24","T":95,"v":-0.39},{"s":"PFA/OX24","T":97,"v":-0.392},{"s":"PFA/OX24","T":99,"v":-0.37},{"s":"PFA/OX24","T":101,"v":-0.352},{"s":"PFA/OX24","T":104,"v":-0.342},{"s":"PFA/OX24","T":108,"v":-0.337},{"s":"PFA/OX24","T":112,"v":-0.335},{"s":"PFA/OX24","T":116,"v":-0.32},{"s":"PFA/OX24","T":118,"v":-0.318},{"s":"PFA/OX24","T":120,"v":-0.325},{"s":"PFA/OX24","T":122,"v":-0.34},{"s":"PFA/OX24","T":124,"v":-0.345},{"s":"PFA/OX24","T":126,"v":-0.335},{"s":"PFA/OX24","T":128,"v":-0.33},{"s":"PFA/OX24","T":131,"v":-0.325},{"s":"PFA/OX24","T":133,"v":-0.31},{"s":"PFA/OX24","T":135,"v":-0.295},{"s":"PFA/OX24","T":138,"v":-0.28},{"s":"PFA/OX24","T":141,"v":-0.27},{"s":"PFA/OX24","T":144,"v":-0.26},{"s":"PFA/OX24","T":146,"v":-0.248},{"s":"PFA/OX24","T":149,"v":-0.25},{"s":"PFA/OX24","T":152,"v":-0.24},{"s":"PFA/OX24","T":156,"v":-0.228},{"s":"PFA/OX24","T":160,"v":-0.215},{"s":"PFA/OX24","T":165,"v":-0.202},{"s":"PFA/OX24","T":170,"v":-0.19},{"s":"PFA/OX24","T":175,"v":-0.183},{"s":"PFA/OX24","T":178,"v":-0.185},{"s":"PFA/OX24","T":182,"v":-0.198},{"s":"PFA/OX24","T":186,"v":-0.22},{"s":"PFA/OX24","T":190,"v":-0.243},{"s":"PFA/OX24","T":195,"v":-0.268},{"s":"PFA/OX24","T":200,"v":-0.285},{"s":"PFA/OX24","T":205,"v":-0.297},{"s":"PFA/OX24","T":210,"v":-0.302},{"s":"PFA/OX24","T":215,"v":-0.298},{"s":"PFA/OX24","T":220,"v":-0.292},{"s":"PFA/OX24","T":225,"v":-0.285},{"s":"PFA/OX24","T":230,"v":-0.28},{"s":"PFA/OX24","T":234,"v":-0.285},{"s":"PFA/OX24","T":236,"v":-0.275},{"s":"PFA/OX24","T":238,"v":-0.255},{"s":"PFA/OX24","T":240,"v":-0.255},{"s":"PFA/OX24","T":242,"v":-0.265},{"s":"PFA/OX24","T":245,"v":-0.27},{"s":"PFA/OX24","T":250,"v":-0.264},{"s":"PFA/OX24","T":260,"v":-0.243},{"s":"PFA/OX24","T":270,"v":-0.223},{"s":"PFA/OX24","T":280,"v":-0.2},{"s":"PFA/OX24","T":290,"v":-0.171},{"s":"PFA/OX24","T":300,"v":-0.126},{"s":"PFA/OX24","T":310,"v":-0.062},{"s":"PFA/OX24","T":320,"v":0.015},{"s":"PFA/OX24","T":330,"v":0.105},{"s":"PFA/OX24","T":338,"v":0.2}
]
},
"vconcat":[
{
 "width":513,"height":244,
 "layer":[
  {"data":{"name":"a"},"mark":{"type":"line","strokeWidth":2,"clip":true},
   "encoding":{
    "x":{"field":"T","type":"quantitative","scale":{"domain":[0,350],"nice":false,"zero":false},"axis":{"values":[0,50,100,150,200,250,300,350],"tickCount":20,"format":"d","labelOverlap":false,"title":"Temperature (°C)"}},
    "y":{"field":"v","type":"quantitative","scale":{"domain":[-0.7,0],"nice":false,"zero":false},"axis":{"values":[-0.7,-0.6,-0.5,-0.4,-0.3,-0.2,-0.1,0],"tickCount":20,"format":".1~f","labelOverlap":false,"title":"Heat flow (W.g\u207b\u00b9)"}},
    "color":{"field":"s","type":"nominal","scale":{"domain":["PFA/OX0","PFA/OX6","PFA/OX24"],"range":["#8B3A1A","#F0692B","#FFC414"]},"legend":{"legendX":14,"legendY":143}}
   }},
  {"data":{"values":[{"lab":"a","T":338,"v":-0.066}]},"mark":{"type":"text","font":"Liberation Serif","fontSize":22,"color":"#222"},
   "encoding":{"x":{"field":"T","type":"quantitative","scale":{"domain":[0,350],"nice":false,"zero":false}},"y":{"field":"v","type":"quantitative","scale":{"domain":[-0.7,0],"nice":false,"zero":false}},"text":{"field":"lab"}}}
 ]
},
{
 "width":490,"height":209,
 "layer":[
  {"data":{"name":"b"},"mark":{"type":"line","strokeWidth":2,"clip":true},
   "encoding":{
    "x":{"field":"T","type":"quantitative","scale":{"domain":[0,350],"nice":false,"zero":false},"axis":{"values":[0,50,100,150,200,250,300,350],"tickCount":20,"format":"d","labelOverlap":false,"title":"Temperature (°C)"}},
    "y":{"field":"v","type":"quantitative","scale":{"domain":[-0.7,-0.1],"nice":false,"zero":false},"axis":{"values":[-0.7,-0.6,-0.5,-0.4,-0.3,-0.2,-0.1],"tickCount":20,"format":".1~f","labelOverlap":false,"title":"Heat flow (W.g-1)"}},
    "color":{"field":"s","type":"nominal","scale":{"domain":["PFA/OX0","PFA/OX6","PFA/OX24"],"range":["#8B3A1A","#F0692B","#FFC414"]},"legend":{"legendX":23,"legendY":111}}
   }},
  {"data":{"values":[{"lab":"b","T":350,"v":-0.054}]},"mark":{"type":"text","font":"Liberation Serif","fontSize":22,"color":"#222"},
   "encoding":{"x":{"field":"T","type":"quantitative","scale":{"domain":[0,350],"nice":false,"zero":false}},"y":{"field":"v","type":"quantitative","scale":{"domain":[-0.7,-0.1],"nice":false,"zero":false}},"text":{"field":"lab"}}}
 ]
},
{
 "width":483,"height":211,
 "layer":[
  {"data":{"name":"c"},"mark":{"type":"line","strokeWidth":2,"clip":true},
   "encoding":{
    "x":{"field":"T","type":"quantitative","scale":{"domain":[0,350],"nice":false,"zero":false},"axis":{"values":[0,50,100,150,200,250,300,350],"tickCount":20,"format":"d","labelOverlap":false,"title":"Temperature (°C)"}},
    "y":{"field":"v","type":"quantitative","scale":{"domain":[-1.8,0.6],"nice":false,"zero":false},"axis":{"values":[-1.8,-1.4,-1,-0.6,-0.2,0.2,0.6],"tickCount":20,"format":".1~f","labelOverlap":false,"title":"Heat flow (W.g\u207b\u00b9)"}},
    "color":{"field":"s","type":"nominal","scale":{"domain":["PFA/OX0","PFA/OX6","PFA/OX24"],"range":["#8B3A1A","#F0692B","#FFC414"]},"legend":{"legendX":12,"legendY":126}}
   }},
  {"data":{"values":[{"lab":"c","T":347,"v":0.566}]},"mark":{"type":"text","font":"Liberation Serif","fontSize":22,"color":"#222"},
   "encoding":{"x":{"field":"T","type":"quantitative","scale":{"domain":[0,350],"nice":false,"zero":false}},"y":{"field":"v","type":"quantitative","scale":{"domain":[-1.8,0.6],"nice":false,"zero":false}},"text":{"field":"lab"}}}
 ]
},
{
 "width":459,"height":207,
 "layer":[
  {"data":{"name":"d"},"mark":{"type":"line","strokeWidth":2,"clip":true},
   "encoding":{
    "x":{"field":"T","type":"quantitative","scale":{"domain":[0,350],"nice":false,"zero":false},"axis":{"values":[0,50,100,150,200,250,300,350],"tickCount":20,"format":"d","labelOverlap":false,"title":"Temperature (°C)"}},
    "y":{"field":"v","type":"quantitative","scale":{"domain":[-0.6,0.2],"nice":false,"zero":false},"axis":{"values":[-0.6,-0.5,-0.4,-0.3,-0.2,-0.1,0,0.1,0.2],"tickCount":20,"format":".1~f","labelOverlap":false,"title":"Heat flow (W.g\u207b\u00b9)"}},
    "color":{"field":"s","type":"nominal","scale":{"domain":["PFA/OX0","PFA/OX6","PFA/OX24"],"range":["#8B3A1A","#F0692B","#FFC414"]},"legend":{"legendX":358,"legendY":117}}
   }},
  {"data":{"values":[{"lab":"d","T":354,"v":0.254}]},"mark":{"type":"text","font":"Liberation Serif","fontSize":22,"color":"#222"},
   "encoding":{"x":{"field":"T","type":"quantitative","scale":{"domain":[0,350],"nice":false,"zero":false}},"y":{"field":"v","type":"quantitative","scale":{"domain":[-0.6,0.2],"nice":false,"zero":false}},"text":{"field":"lab"}}}
 ]
}
]
}
